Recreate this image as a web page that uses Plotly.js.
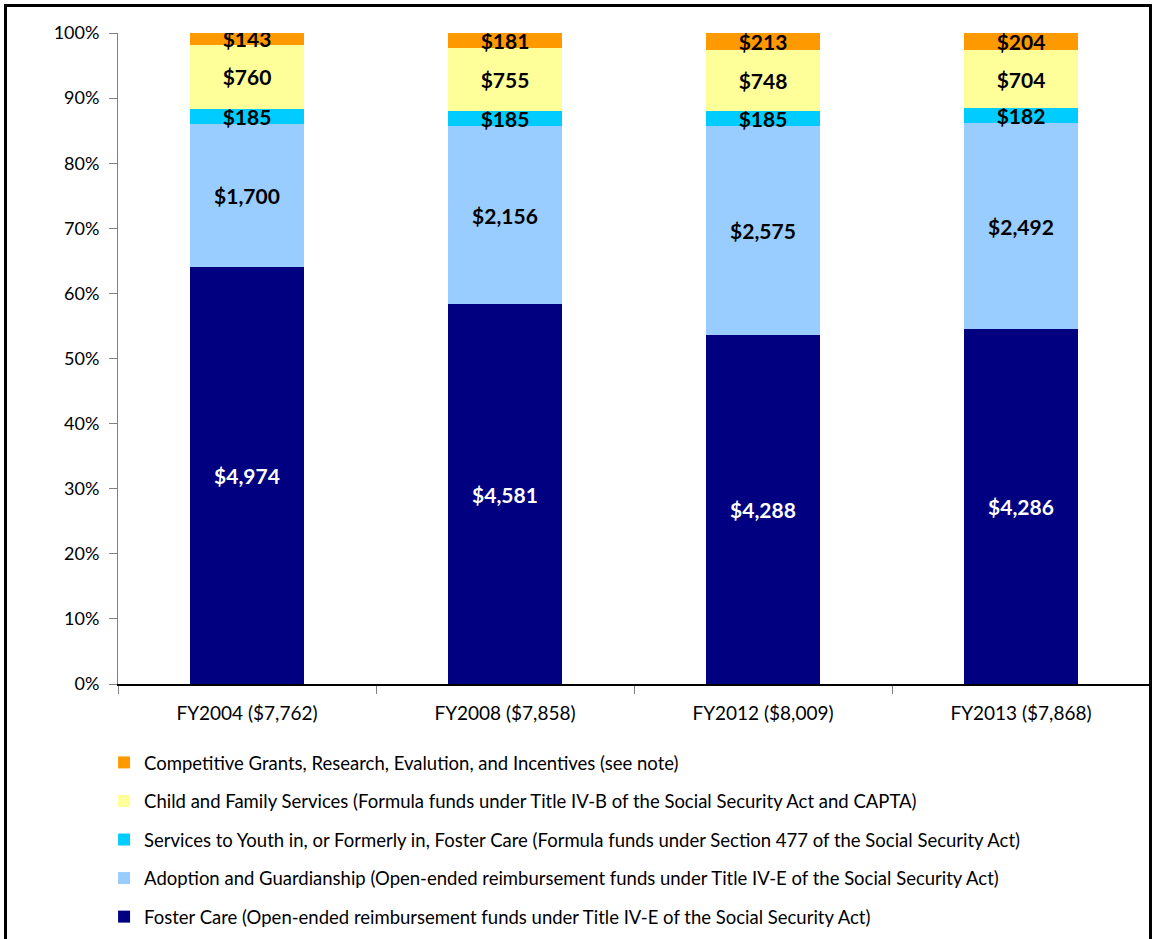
<!DOCTYPE html>
<html>
<head>
<meta charset="utf-8">
<script src="https://cdn.plot.ly/plotly-3.0.1.min.js"></script>
<style>
  html, body { margin: 0; padding: 0; background: #fff; }
  #frame { position: absolute; left: 4px; top: 4px; width: 1142px; height: 1000px; border: 3px solid #000; box-sizing: content-box; pointer-events: none; z-index: 5; }
  #chart { position: absolute; left: 0; top: 0; width: 1152px; height: 939px; }
</style>
</head>
<body>
<div id="chart"></div>
<div id="frame"></div>
<script>
const categories = ["FY2004 ($7,762)", "FY2008 ($7,858)", "FY2012 ($8,009)", "FY2013 ($7,868)"];
const fosterCare = [4974, 4581, 4288, 4286];
const adoption = [1700, 2156, 2575, 2492];
const youth = [185, 185, 185, 182];
const childFamily = [760, 755, 748, 704];
const competitive = [143, 181, 213, 204];

const seriesNames = [
  "Foster Care (Open-ended reimbursement funds under Title IV-E of the Social Security Act)",
  "Adoption and Guardianship (Open-ended reimbursement funds under Title IV-E of the Social Security Act)",
  "Services to Youth in, or Formerly in, Foster Care (Formula funds under Section 477 of the Social Security Act)",
  "Child and Family Services (Formula funds under Title IV-B of the Social Security Act and CAPTA)",
  "Competitive Grants, Research, Evalution, and Incentives (see note)"
];
const seriesValues = [fosterCare, adoption, youth, childFamily, competitive];
const seriesColors = ["#000080", "#99CCFF", "#00CCFF", "#FFFF99", "#FF9900"];
const textColors = ["#FFFFFF", "#000000", "#000000", "#000000", "#000000"];

const fmt = v => "$" + v.toLocaleString("en-US");

const traces = seriesValues.map((vals, i) => ({
  type: "bar",
  name: seriesNames[i],
  x: categories,
  y: vals,
  text: vals.map(fmt),
  textposition: "inside",
  insidetextanchor: "middle",
  constraintext: "none",
  textangle: 0,
  textfont: { family: "Lato, sans-serif", size: 21, color: textColors[i], weight: "bold" },
  marker: { color: seriesColors[i], line: { width: 0 } },
  legendgroup: "g" + i,
  legendrank: 1000 - i,
  hoverinfo: "skip"
}));

const layout = {
  width: 1152,
  height: 939,
  margin: { l: 118, r: 2, t: 33, b: 255 },
  paper_bgcolor: "#fff",
  plot_bgcolor: "#fff",
  barmode: "stack",
  barnorm: "percent",
  bargap: 0.56,
  font: { family: "Lato, sans-serif", size: 18, color: "#000" },
  showlegend: true,
  legend: {
    orientation: "v",
    x: -0.0135,
    xanchor: "left",
    y: -0.092,
    yanchor: "top",
    traceorder: "grouped",
    tracegroupgap: 11.5,
    font: { family: "Lato, sans-serif", size: 18.5, color: "#000" },
    itemwidth: 30,
    bgcolor: "rgba(0,0,0,0)"
  },
  xaxis: {
    type: "category",
    automargin: false,
    showline: true,
    linecolor: "#000",
    linewidth: 1.5,
    ticks: "outside",
    tickson: "boundaries",
    ticklen: 8,
    tickcolor: "#808080",
    ticklabelstandoff: 12,
    showgrid: false,
    tickfont: { family: "Lato, sans-serif", size: 19, color: "#000" }
  },
  yaxis: {
    range: [0, 100],
    dtick: 10,
    ticksuffix: "%",
    automargin: false,
    showline: true,
    linecolor: "#808080",
    linewidth: 1,
    ticks: "outside",
    ticklen: 8,
    tickcolor: "#808080",
    ticklabelstandoff: 6,
    showgrid: false,
    zeroline: false,
    tickfont: { family: "Lato, sans-serif", size: 18, color: "#000" }
  }
};

Plotly.newPlot("chart", traces, layout, { displayModeBar: false, staticPlot: true });
</script>
</body>
</html>
